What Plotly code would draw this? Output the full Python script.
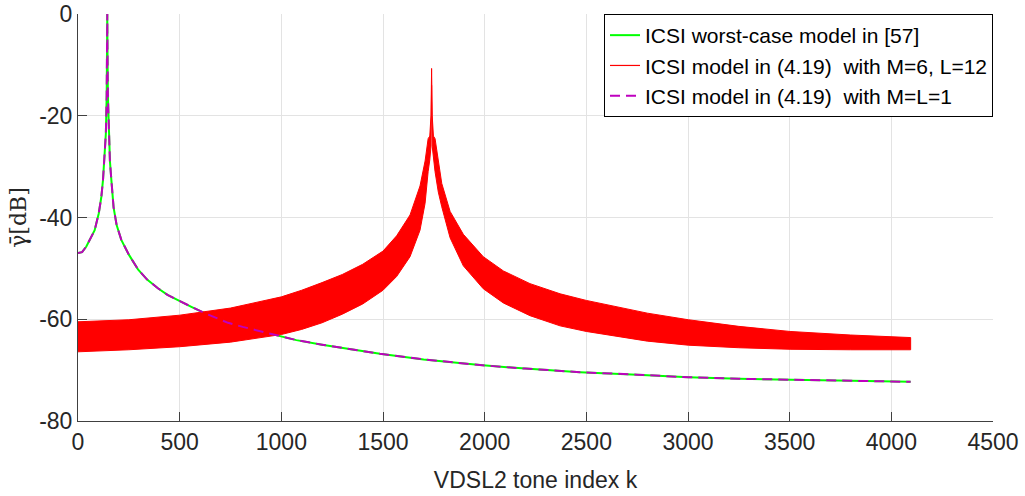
import plotly.graph_objects as go

# ---- data ----
# ICSI worst-case model (same curve for M=L=1)
green_k = [0, 20, 41, 60, 82, 102, 115, 123, 131, 137, 141, 143, 144, 145, 147, 151, 157,
           164, 175, 190, 213, 250, 295, 340, 393, 440, 492, 560, 623, 680, 738, 810, 885,
           984, 1074, 1200, 1350, 1485, 1700, 1977, 2200, 2469, 2750, 3002, 3250, 3502,
           3800, 4095]
green_db = [-47.0, -46.8, -45.7, -44.3, -42.5, -39.2, -35.9, -32.6, -28.0, -23.5, -16.0,
            -6.6, 0.0, -6.6, -16.0, -23.5, -28.9, -32.6, -38.0, -41.5, -44.4, -47.3, -50.2,
            -52.2, -53.9, -55.2, -56.3, -57.6, -58.8, -59.8, -60.7, -61.5, -62.2, -63.2,
            -64.1, -65.0, -66.0, -66.8, -67.9, -69.0, -69.7, -70.4, -70.9, -71.4, -71.7,
            -71.9, -72.1, -72.3]

# ICSI model M=6, L=12 : upper / lower envelopes of the oscillating curve
red_k = [0, 250, 500, 750, 1000, 1100, 1200, 1300, 1400, 1500, 1567, 1633, 1682, 1707,
         1722, 1730, 1736, 1739, 1742, 1748, 1756, 1772, 1789, 1830, 1895, 1993, 2092,
         2223, 2371, 2500, 2617, 2800, 3002, 3250, 3502, 3800, 4095]
red_upper = [-60.5, -60.1, -59.2, -57.8, -55.6, -54.3, -52.8, -51.2, -49.2, -46.6, -43.6,
             -39.5, -33.8, -28.9, -24.5, -24.0, -20.0, -10.7, -20.0, -24.0, -24.5, -29.0,
             -33.3, -38.8, -43.3, -47.7, -50.5, -53.0, -55.0, -56.3, -57.3, -58.8, -60.1,
             -61.4, -62.4, -63.1, -63.6]
red_lower = [-66.4, -66.0, -65.4, -64.5, -63.0, -62.0, -60.7, -59.0, -57.0, -54.3, -51.6,
             -47.7, -42.5, -37.2, -31.0, -28.7, -26.0, -14.0, -26.0, -28.7, -31.0, -35.0,
             -37.9, -44.0, -49.5, -54.0, -56.8, -59.3, -61.3, -62.4, -63.2, -64.3, -65.1,
             -65.6, -65.9, -66.0, -66.0]

x_ticks = [0, 500, 1000, 1500, 2000, 2500, 3000, 3500, 4000, 4500]
y_ticks = [-80, -60, -40, -20, 0]

names = ["ICSI worst-case model in [57]",
         "ICSI model in (4.19)  with M=6, L=12",
         "ICSI model in (4.19)  with M=L=1"]

GREEN = "#00ff00"
RED = "#ff0000"
MAG = "#bf00bf"

fig = go.Figure()

fig.add_trace(go.Scatter(x=green_k, y=green_db, mode="lines", name=names[0],
                         line=dict(color=GREEN, width=2)))

# red band (dense oscillation drawn as filled envelope)
fig.add_trace(go.Scatter(x=red_k + red_k[::-1], y=red_upper + red_lower[::-1],
                         mode="lines", fill="toself", fillcolor=RED,
                         line=dict(color=RED, width=1),
                         showlegend=False, hoverinfo="skip"))
fig.add_trace(go.Scatter(x=[None], y=[None], mode="lines", name=names[1],
                         line=dict(color=RED, width=1.2)))

fig.add_trace(go.Scatter(x=green_k, y=green_db, mode="lines", name=names[2],
                         line=dict(color=MAG, width=2, dash="10px,6px")))

axis_common = dict(
    showgrid=True, gridcolor="#e3e3e3", gridwidth=1,
    showline=True, linecolor="#404040", linewidth=1,
    ticks="inside", ticklen=9, tickcolor="#404040", tickwidth=1,
    tickfont=dict(family="Liberation Sans, Arial", size=23, color="#262626"),
    zeroline=False, mirror=False, automargin=False,
)

fig.update_xaxes(range=[0, 4500], tickvals=x_ticks, ticktext=[str(v) for v in x_ticks],
                 title=dict(text="VDSL2 tone index k", standoff=18,
                            font=dict(family="Liberation Sans, Arial", size=23, color="#262626")),
                 **axis_common)
fig.update_yaxes(range=[-80, 0], tickvals=y_ticks, ticktext=[str(v) for v in y_ticks],
                 title=dict(text="\u03b3\u0304[dB]", standoff=6,
                            font=dict(family="DejaVu Serif, Liberation Serif", size=22, color="#262626")),
                 **axis_common)

fig.update_layout(
    width=1025, height=496,
    margin=dict(l=78, r=32, t=14, b=75),
    plot_bgcolor="white", paper_bgcolor="white",
    legend=dict(x=1.0, y=1.0, xanchor="right", yanchor="top",
                bgcolor="white", bordercolor="#000000", borderwidth=1,
                font=dict(family="Liberation Sans, Arial", size=21, color="#000000"),
                itemwidth=30, tracegroupgap=0),
)

fig.write_html("out.html")
